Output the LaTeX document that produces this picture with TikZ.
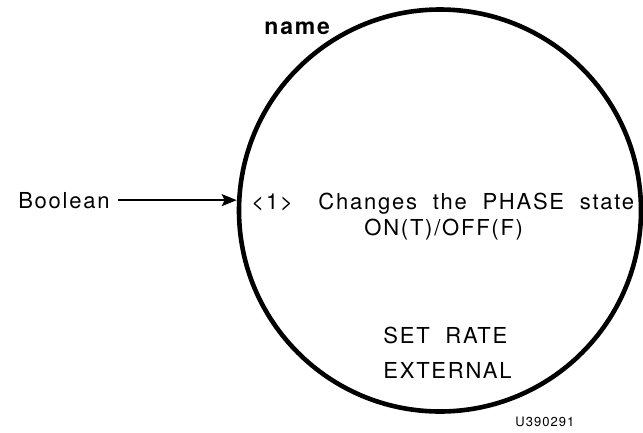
\documentclass[tikz,border=0pt]{standalone}
\usepackage{fontspec}
\setmainfont{TeX Gyre Heros}[LetterSpace=8,WordSpace=2.0]
\usepackage{tikz}
\usetikzlibrary{arrows.meta}

\begin{document}
\begin{tikzpicture}[x=1pt,y=-1pt,thick,
  block node/.style={circle,draw,line width=4.6pt,minimum size=402pt,inner sep=0pt},
  txt node/.style={inner sep=0pt,anchor=base west,font=\fontsize{22}{24}\selectfont}]
  \useasboundingbox (0,0) rectangle (643,432);

  \node[block node] (blk) at (440,210.5) {};
  \node[txt node,font=\fontsize{23}{24}\selectfont\bfseries] (name) at (264,34) {name};

  \node[txt node,anchor=base east] (bool) at (110,208) {Boolean};
  \node[txt node] (idx) at (251,209) {<1>};
  \node[txt node] (desc) at (318,209) {Changes the PHASE state};
  \node[txt node] (mode) at (364,235) {ON(T)/OFF(F)};
  \node[txt node] (rate) at (383,343) {SET RATE};
  \node[txt node] (ext) at (383,378) {EXTERNAL};
  \node[txt node,font=\fontsize{13}{16}\selectfont] (code) at (515,426) {U390291};

  \draw[line width=2pt,-{Stealth[length=15pt,width=12pt,inset=3pt]},shorten <=8pt]
    (bool.east) -- (bool.east -| blk.west);
\end{tikzpicture}
\end{document}
